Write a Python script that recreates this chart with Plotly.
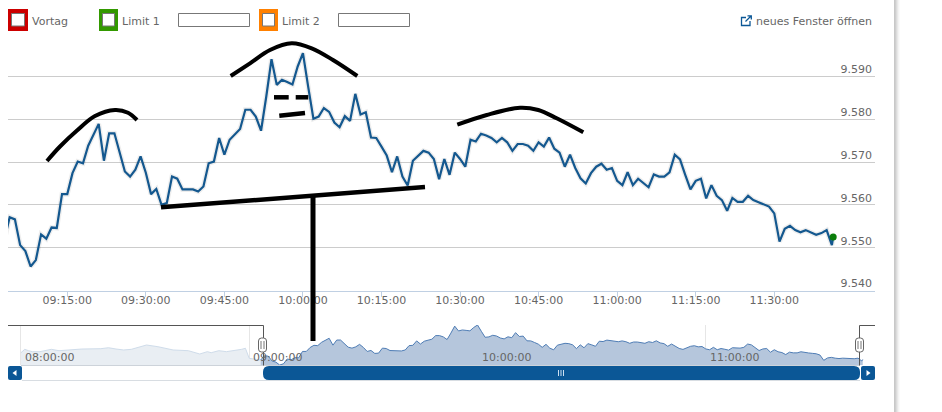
import pandas as pd
import plotly.graph_objects as go

DAY = "2024-01-15 "

# ---------- data ----------
PRICE_START = "09:03"
PRICE_VALUES = [
 9.5518,9.5571,9.5566,9.5506,9.5492,9.5456,9.5471,9.5531,9.5521,9.5547,9.5546,9.5625,
 9.5625,9.5674,9.5701,9.5697,9.5738,9.5763,9.5789,9.5703,9.5767,9.5767,9.5721,9.5678,
 9.5666,9.5682,9.5713,9.5675,9.5625,9.5637,9.5600,9.5604,9.5666,9.5661,9.5636,9.5636,
 9.5636,9.5631,9.5643,9.5697,9.5701,9.5756,9.5717,9.5752,9.5765,9.5777,9.5822,9.5822,
 9.5806,9.5773,9.5853,9.5940,9.5880,9.5892,9.5887,9.5881,9.5923,9.5954,9.5876,9.5801,
 9.5806,9.5826,9.5817,9.5792,9.5781,9.5807,9.5796,9.5859,9.5811,9.5816,9.5757,9.5756,
 9.5736,9.5715,9.5676,9.5713,9.5666,9.5645,9.5703,9.5715,9.5726,9.5722,9.5707,9.5660,
 9.5707,9.5670,9.5722,9.5707,9.5689,9.5752,9.5748,9.5766,9.5762,9.5756,9.5746,9.5756,
 9.5746,9.5726,9.5742,9.5742,9.5738,9.5726,9.5746,9.5736,9.5757,9.5731,9.5722,9.5689,
 9.5717,9.5686,9.5662,9.5650,9.5674,9.5689,9.5696,9.5682,9.5686,9.5656,9.5646,9.5676,
 9.5646,9.5661,9.5652,9.5641,9.5671,9.5666,9.5666,9.5676,9.5717,9.5706,9.5670,9.5636,
 9.5656,9.5661,9.5615,9.5646,9.5621,9.5611,9.5586,9.5616,9.5607,9.5607,9.5621,9.5611,
 9.5606,9.5601,9.5596,9.5580,9.5514,9.5544,9.5551,9.5541,9.5536,9.5541,9.5536,9.5530,
 9.5534,9.5541,
]
LAST_TIMES = ["11:41:00", "11:41:15"]
LAST_VALUES = [9.5506, 9.5525]

EARLY_TIMES = ["08:00","08:01","08:02","08:03","08:05","08:08","08:10","08:12","08:16","08:21",
               "08:23","08:25","08:27","08:29","08:33","08:36","08:40","08:44","08:47","08:49",
               "08:50","08:52","08:54","08:58","08:59","09:00"]
EARLY_VALUES = [9.5609,9.5651,9.5634,9.5622,9.5622,9.5651,9.5634,9.5643,9.5655,9.5659,
                9.5671,9.5655,9.5643,9.5651,9.5705,9.5684,9.5643,9.5634,9.5593,9.5622,
                9.5609,9.5634,9.5622,9.5651,9.5664,9.5539]

PRICE_TICKS = [9.540, 9.550, 9.560, 9.570, 9.580, 9.590, 9.600]
PRICE_LABELS = ["9.540", "9.550", "9.560", "9.570", "9.580", "9.590", ""]
TIME_TICKS = ["09:15","09:30","09:45","10:00","10:15","10:30","10:45","11:00","11:15","11:30"]
NAV_TICKS = ["08:00", "09:00", "10:00", "11:00"]

# ---------- derived ----------
minute_times = pd.date_range(DAY + PRICE_START, periods=len(PRICE_VALUES), freq="min")
last_times = pd.to_datetime([DAY + t for t in LAST_TIMES])
line_x = list(minute_times) + list(last_times)
line_y = PRICE_VALUES + LAST_VALUES
early_x = pd.to_datetime([DAY + t for t in EARLY_TIMES])

W, H = 942, 412
BLUE = "#14588f"
DARK = "#0b5796"
GREY_TXT = "#666666"
FONT = "DejaVu Sans"

fig = go.Figure()

# navigator
fig.add_trace(go.Scatter(x=list(early_x) + [minute_times[0]], y=EARLY_VALUES + [PRICE_VALUES[0]],
                         mode="lines", fill="tozeroy", fillcolor="#e9eef3",
                         line=dict(color="#cfdcea", width=1), xaxis="x2", yaxis="y2",
                         showlegend=False, hoverinfo="skip"))
fig.add_trace(go.Scatter(x=line_x, y=line_y, mode="lines", fill="tozeroy", fillcolor="#b5c6dc",
                         line=dict(color="#4f7db5", width=1), xaxis="x2", yaxis="y2",
                         showlegend=False, hoverinfo="skip"))
# main price line with soft shadow
fig.add_trace(go.Scatter(x=line_x, y=line_y, mode="lines",
                         line=dict(color="rgba(0,0,0,0.07)", width=5),
                         showlegend=False, hoverinfo="skip"))
fig.add_trace(go.Scatter(x=line_x, y=line_y, mode="lines", line=dict(color=BLUE, width=2.2),
                         showlegend=False))
fig.add_trace(go.Scatter(x=[line_x[-1]], y=[line_y[-1]], mode="markers",
                         marker=dict(color="#0a7d0a", size=7), showlegend=False))

# hand-drawn strokes, on the full-page overlay axes
STROKES = [
    ([47,60,77,95,115,128,137], [161,146.5,130.5,116,110,112.7,120], 4),
    ([230.7,250,270,291.7,311.7,333,357.3], [76,63.3,50,43.3,48.3,60,76], 4),
    ([274,288.7], [97.3,97.3], 4.5),
    ([295.7,308.3], [97.3,97.3], 4.5),
    ([279.3,305], [115.7,113], 4.5),
    ([457.3,486.7,520,538.3,556.7,583.3], [124.7,115,107.7,110,118.3,132.3], 4),
    ([161,425], [207.3,187], 4.5),
    ([313,313], [196,341], 5),
]
for sx, sy, sw in STROKES:
    fig.add_trace(go.Scatter(x=sx, y=sy, mode="lines", xaxis="x3", yaxis="y3",
                             line=dict(color="black", width=sw, shape="spline"),
                             showlegend=False, hoverinfo="skip"))

def rect(x0, y0, x1, y1, fill=None, line=None, lw=1):
    return dict(type="rect", xref="x3", yref="y3", x0=x0, y0=y0, x1=x1, y1=y1,
                fillcolor=fill or "rgba(0,0,0,0)", line=dict(color=line or "rgba(0,0,0,0)", width=lw if line else 0),
                layer="above")

def path(d, fill=None, line=None, lw=1):
    return dict(type="path", xref="x3", yref="y3", path=d, fillcolor=fill or "rgba(0,0,0,0)",
                line=dict(color=line or "rgba(0,0,0,0)", width=lw if line else 0), layer="above")

def rrect(x0, y0, x1, y1, r):
    return (f"M{x0+r},{y0} L{x1-r},{y0} Q{x1},{y0} {x1},{y0+r} L{x1},{y1-r} Q{x1},{y1} {x1-r},{y1} "
            f"L{x0+r},{y1} Q{x0},{y1} {x0},{y1-r} L{x0},{y0+r} Q{x0},{y0} {x0+r},{y0} Z")

shapes = []
# legend boxes
for x0, x1, col in [(8, 28, "#cc0000"), (99, 118, "#339900"), (259, 278, "#ff8000")]:
    shapes.append(rect(x0, 9, x1, 31, fill=col))
    shapes.append(rect(x0 + 3.5, 13.5, x1 - 3.5, 26, fill="white", line="#777777"))
for x0 in (178.5, 338.5):
    shapes.append(rect(x0, 13.5, x0 + 71, 26.5, fill="white", line="#777777"))
# external-link icon
shapes.append(path("M746,17.5 L741.5,17.5 L741.5,25.5 L750,25.5 L750,21", line=DARK, lw=1.3))
shapes.append(path("M745.5,21.5 L751,16 M747.5,15.8 L751.3,15.8 L751.3,19.5", line=DARK, lw=1.3))
# navigator bottom line, selection outline
shapes.append(path("M21,365.5 L860,365.5", line="#cdd3da", lw=1))
shapes.append(path("M8,325.5 L263.5,325.5 L263.5,365.5", line="#555555", lw=1))
shapes.append(path("M859.5,365.5 L859.5,325.5 L875,325.5", line="#555555", lw=1))
# scrollbar
shapes.append(path("M22,380.5 L860,380.5", line="#d8dde2", lw=1))
shapes.append(path(rrect(263, 366, 860, 380, 6), fill=DARK))
shapes.append(path(rrect(8, 366, 22, 380, 2), fill=DARK))
shapes.append(path(rrect(861, 366, 875, 380, 2), fill=DARK))
shapes.append(path("M16.5,370 L12.5,373 L16.5,376 Z", fill="white"))
shapes.append(path("M866.5,370 L870.5,373 L866.5,376 Z", fill="white"))
for gx in (558, 560.5, 563):
    shapes.append(rect(gx, 370, gx + 1, 376, fill="#cfe0f0"))
# navigator handles
for cx in (262.5, 859.5):
    shapes.append(path(rrect(cx - 4, 338, cx + 4, 352, 3), fill="white", line="#666666"))
    shapes.append(path(f"M{cx-1.5},341 L{cx-1.5},349 M{cx+1.5},341 L{cx+1.5},349", line="#777777"))
# page edge shadow
for sx, col in [(894, "#c8c8c8"), (895, "#cfcfcf"), (896, "#dcdcdc"), (897, "#e8e8e8"), (898, "#f3f3f3"), (899, "#fafafa")]:
    shapes.append(rect(sx, 0, sx + 1, H, fill=col))

def page_text(x, y, txt, anchor="left"):
    return dict(x=x, y=y, xref="x3", yref="y3", text=txt, showarrow=False, xanchor=anchor,
                yanchor="middle", font=dict(family=FONT, size=11, color=GREY_TXT))

annotations = [
    page_text(29.5, 21, "Vortag"),
    page_text(119.5, 21, "Limit 1"),
    page_text(279.5, 21, "Limit 2"),
    page_text(874, 21, "neues Fenster öffnen", "right"),
]
for t in NAV_TICKS:
    annotations.append(dict(x=DAY + t, y=357, xref="x2", yref="y3", text=t + ":00", showarrow=False,
                            xanchor="left", xshift=2, yanchor="middle",
                            font=dict(family=FONT, size=11, color=GREY_TXT)))

fig.update_layout(
    width=W, height=H, margin=dict(l=0, r=0, t=0, b=0, pad=0), autosize=False,
    paper_bgcolor="white", plot_bgcolor="rgba(0,0,0,0)", showlegend=False,
    font=dict(family=FONT, size=11, color=GREY_TXT),
    shapes=shapes, annotations=annotations,
    xaxis=dict(domain=[8 / W, 875 / W], range=[DAY + "09:03:41", DAY + "11:49:14"], type="date",
               tickvals=[DAY + t for t in TIME_TICKS], ticktext=[t + ":00" for t in TIME_TICKS],
               ticks="outside", ticklen=5, tickcolor="#c0d0e3", showline=True, linecolor="#c0d0e3",
               ticklabelstandoff=-6,
               showgrid=False, zeroline=False, anchor="y", tickfont=dict(family=FONT, size=11, color=GREY_TXT)),
    yaxis=dict(domain=[1 - 290.5 / H, 1 - 33.5 / H], range=[9.540, 9.600], side="right", anchor="x",
               tickvals=PRICE_TICKS, ticktext=PRICE_LABELS, ticklabelposition="inside", ticklabelshift=-7,
               gridcolor="#cccccc", gridwidth=1, zeroline=False, showline=False,
               tickfont=dict(family=FONT, size=11, color=GREY_TXT)),
    xaxis2=dict(domain=[8 / W, 875 / W], range=[DAY + "07:56:36", DAY + "11:44:28"], type="date",
                tickvals=[DAY + t for t in NAV_TICKS], showticklabels=False, ticks="",
                showgrid=True, gridcolor="#e6e6e6", zeroline=False, anchor="y2"),
    yaxis2=dict(domain=[1 - 365 / H, 1 - 325 / H], range=[9.5456, 9.5954], visible=False, anchor="x2"),
    xaxis3=dict(domain=[0, 1], range=[0, W], visible=False, anchor="y3", fixedrange=True),
    yaxis3=dict(domain=[0, 1], range=[H, 0], visible=False, anchor="x3", fixedrange=True),
)

fig.write_html("out.html", config=dict(displayModeBar=False),
               post_script="document.body.style.margin='0';")
